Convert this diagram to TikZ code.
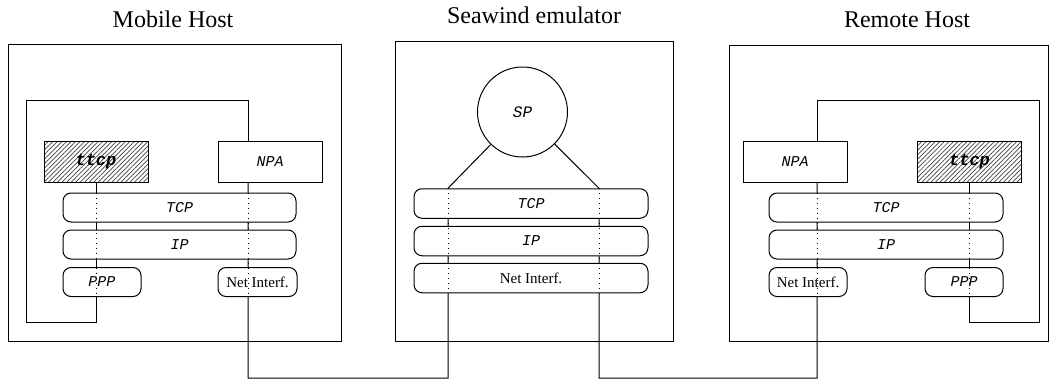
\documentclass[tikz,border=0pt]{standalone}
\usepackage{fontspec}
\setmainfont{Liberation Serif}
\setmonofont{Liberation Mono}
\usetikzlibrary{patterns.meta, backgrounds}
\tikzset{
  hostbox/.style={rectangle, draw, line width=0.5pt},
  hosttitle/.style={anchor=base, font=\fontsize{12}{14}\selectfont},
  stackbox/.style={
    rectangle, rounded corners=4pt,
    draw, fill=white, line width=0.5pt,
    minimum height=14.5pt, inner sep=0pt,
    font=\fontsize{7.5}{9}\selectfont
  },
  proto/.style={stackbox, font=\ttfamily\itshape\fontsize{7.5}{9}\selectfont},
  npabox/.style={
    rectangle, draw, fill=white, line width=0.5pt,
    minimum width=52pt, minimum height=20.5pt,
    font=\ttfamily\itshape\fontsize{7.5}{9}\selectfont
  },
  appbox/.style={npabox,
    pattern={Lines[angle=45, distance=1.6pt, line width=0.35pt]},
    pattern color=black!75,
    font=\ttfamily\bfseries\itshape\fontsize{8.5}{10}\selectfont},
  spnode/.style={circle, draw, fill=white, line width=0.5pt,
    minimum size=45pt, font=\ttfamily\itshape\fontsize{8}{9}\selectfont},
  wire/.style={line width=0.5pt},
  probe/.style={dotted, line width=0.5pt},
}

\begin{document}
\begin{tikzpicture}[x=0.5pt, y=-0.5pt]
  \useasboundingbox (0,0) rectangle (1049,380);

  % hosts
  \node[hostbox, minimum width=166.5pt, minimum height=148.5pt] (mh) at (174.5,192.5) {};
  \node[hostbox, minimum width=139pt, minimum height=150pt] (se) at (534,191) {};
  \node[hostbox, minimum width=159.5pt, minimum height=148pt] (rh) at (888.5,193) {};
  \node[hosttitle] (mhtitle) at (173,27) {Mobile Host};
  \node[hosttitle] (setitle) at (534,24) {Seawind emulator};
  \node[hosttitle] (rhtitle) at (907,27) {Remote Host};

  % mobile host stack
  \node[appbox] (mhttcp) at (96,161.5) {ttcp};
  \node[npabox] (mhnpa) at (270,161.5) {NPA};
  \node[proto, minimum width=116.5pt] (mhtcp) at (179.5,207.5) {TCP};
  \node[proto, minimum width=116.5pt] (mhip) at (179.5,244.5) {IP};
  \node[proto, minimum width=39pt] (mhppp) at (102,282) {PPP};
  \node[stackbox, minimum width=39.5pt] (mhni) at (257.5,282) {Net Interf.};

  % emulator stack
  \node[spnode] (sesp) at (522.5,112) {SP};
  \node[proto, minimum width=117pt, minimum height=14.75pt] (setcp) at (531,203.5) {TCP};
  \node[proto, minimum width=117pt, minimum height=14.75pt] (seip) at (531,241) {IP};
  \node[stackbox, minimum width=117pt, minimum height=14.75pt] (seni) at (531,278) {Net Interf.};

  % remote host stack
  \node[npabox] (rhnpa) at (795,161.5) {NPA};
  \node[appbox] (rhttcp) at (969.5,161.5) {ttcp};
  \node[proto, minimum width=117pt] (rhtcp) at (886,207.5) {TCP};
  \node[proto, minimum width=117pt] (rhip) at (886,244.5) {IP};
  \node[stackbox, minimum width=39pt] (rhni) at (808,282) {Net Interf.};
  \node[proto, minimum width=39pt] (rhppp) at (964,282) {PPP};

  % wire corners
  \coordinate (mhw) at (248,378);
  \coordinate (sewl) at (448,378);
  \coordinate (sewr) at (599,378);
  \coordinate (rhw) at (817,378);
  \coordinate (mhtop) at (248,100);
  \coordinate (mhleft) at (26,100);
  \coordinate (mhbot) at (26,322);
  \coordinate (mhend) at (96,322);
  \coordinate (rhtop) at (817,100);
  \coordinate (rhright) at (1039,100);
  \coordinate (rhbot) at (1039,322);
  \coordinate (rhend) at (969.5,322);

  \begin{scope}[on background layer]
    % loops through the hosts
    \draw[wire] (mhnpa.north -| mhtop) -- (mhtop) -- (mhleft) -- (mhbot)
      -- (mhend) -- (mhttcp.south);
    \draw[wire] (rhnpa.north -| rhtop) -- (rhtop) -- (rhright) -- (rhbot)
      -- (rhend) -- (rhttcp.south);
    % links to the emulator
    \draw[wire] (mhnpa.south -| mhw) -- (mhw) -- (sewl)
      -- (setcp.north -| sewl) -- (sesp);
    \draw[wire] (sesp) -- (setcp.north -| sewr) -- (sewr) -- (rhw)
      -- (rhnpa.south -| rhw);
  \end{scope}

  % paths through the stacks
  \draw[probe] (mhtcp.north -| mhttcp) -- (mhppp.south -| mhttcp);
  \draw[probe] (mhtcp.north -| mhw) -- (mhni.south -| mhw);
  \draw[probe] (setcp.north -| sewl) -- (seni.south -| sewl);
  \draw[probe] (setcp.north -| sewr) -- (seni.south -| sewr);
  \draw[probe] (rhtcp.north -| rhw) -- (rhni.south -| rhw);
  \draw[probe] (rhtcp.north -| rhttcp) -- (rhppp.south -| rhttcp);
\end{tikzpicture}
\end{document}
